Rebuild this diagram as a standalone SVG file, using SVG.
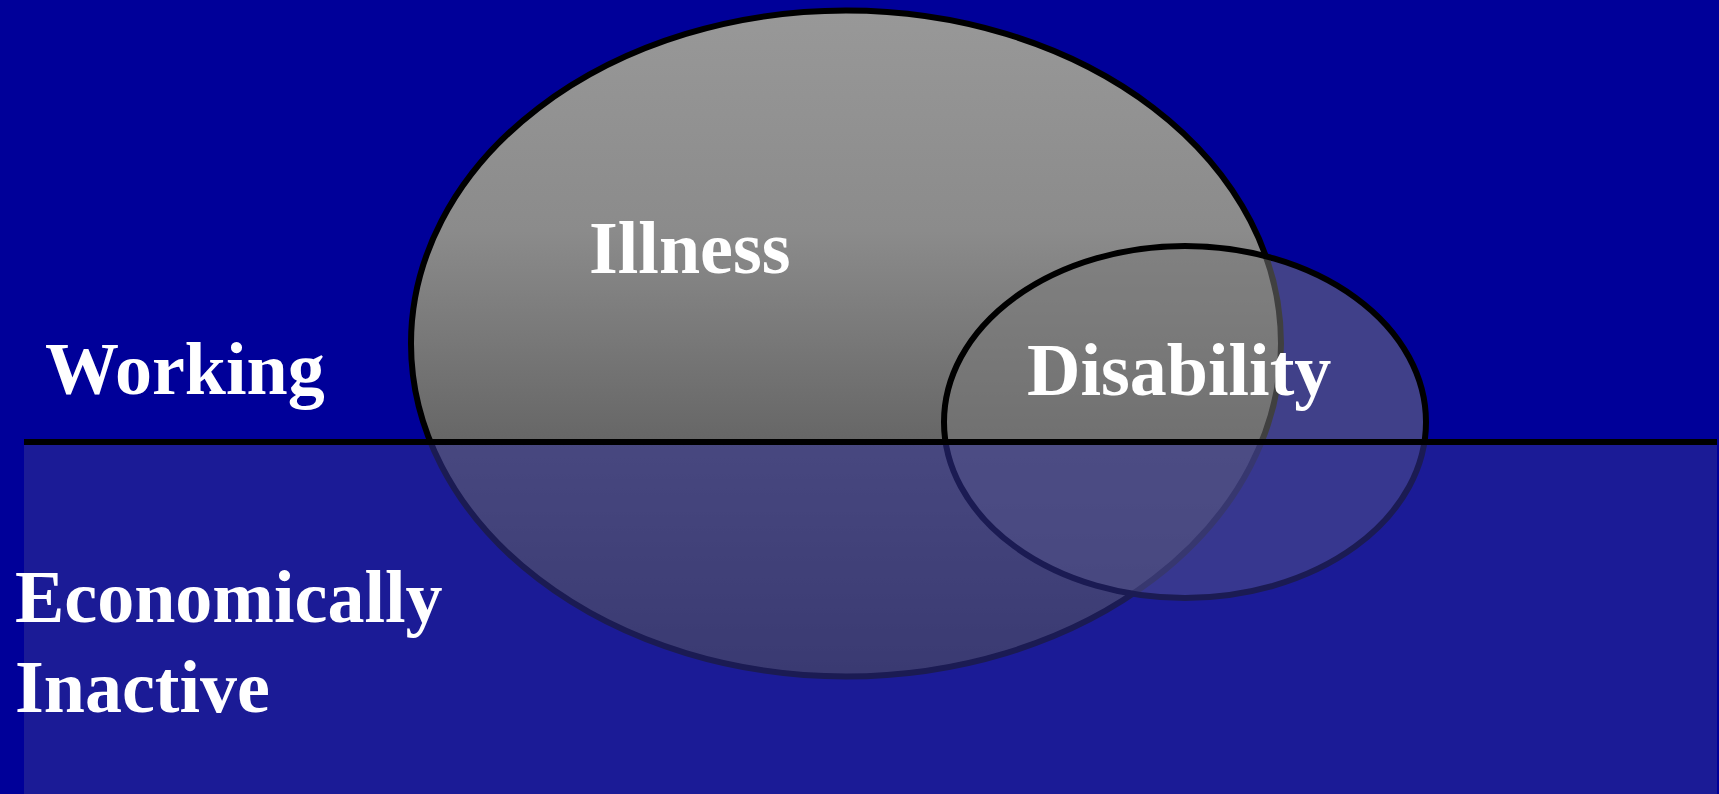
<svg xmlns="http://www.w3.org/2000/svg" width="1719" height="794" viewBox="0 0 1719 794">
  <style>
    .label { font-family: "Liberation Serif", "Times New Roman", serif; font-weight: bold; font-size: 74px; fill: #ffffff; }
    .outline { stroke: #000000; stroke-width: 6; }
  </style>
  <defs>
    <linearGradient id="illnessFill" gradientUnits="userSpaceOnUse" x1="0" y1="12" x2="0" y2="675">
      <stop offset="0" stop-color="#989898"/>
      <stop offset="0.33" stop-color="#8b8b8b"/>
      <stop offset="0.65" stop-color="#666666"/>
      <stop offset="1" stop-color="#474747"/>
    </linearGradient>
  </defs>

  <!-- backdrop -->
  <rect x="0" y="0" width="1719" height="794" fill="#000099"/>

  <!-- Illness set -->
  <g id="illness">
    <ellipse cx="846" cy="343.5" rx="435" ry="333" fill="url(#illnessFill)" class="outline"/>
    <text class="label" x="589" y="273">Illness</text>
  </g>

  <!-- Disability set (translucent) -->
  <g id="disability">
    <ellipse cx="1185" cy="422" rx="241" ry="176" fill="#7a7a7a" fill-opacity="0.52" class="outline"/>
    <text class="label" x="1027" y="395">Disability</text>
  </g>

  <!-- Working region label -->
  <g id="working">
    <text class="label" x="45" y="394">Working</text>
  </g>

  <!-- Economically inactive region: translucent band over the lower half -->
  <g id="inactive">
    <rect x="24" y="442" width="1693" height="352" fill="#303094" fill-opacity="0.56"/>
    <text class="label" x="15" y="622">Economically</text>
    <text class="label" x="15" y="712">Inactive</text>
  </g>

  <!-- dividing line between working and inactive -->
  <g id="connectors">
    <line x1="24" y1="442" x2="1717" y2="442" class="outline"/>
  </g>
</svg>
